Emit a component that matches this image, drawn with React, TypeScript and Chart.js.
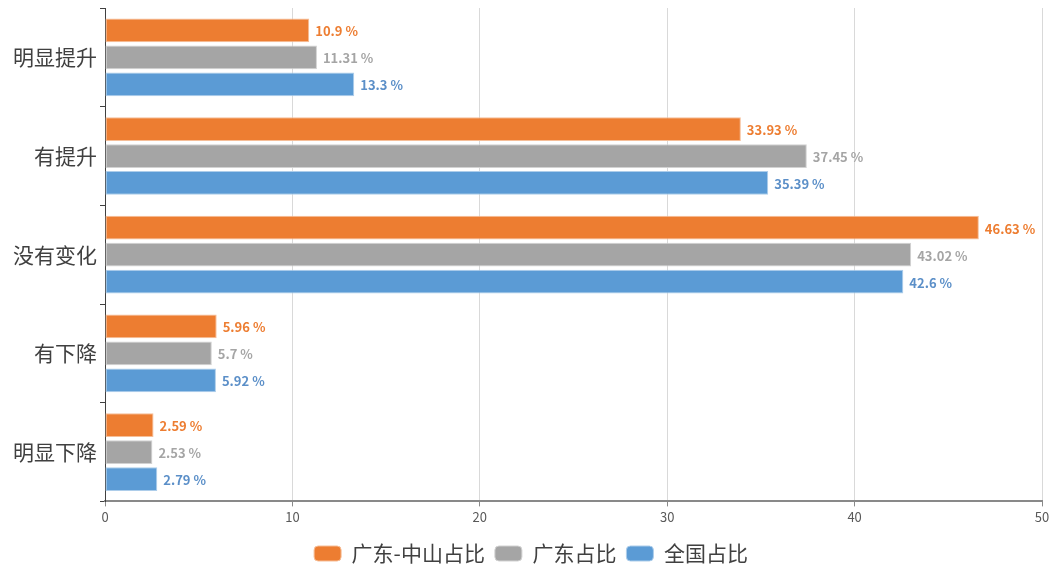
import React, { useEffect, useRef } from "react";
import { Chart, registerables } from "chart.js";

Chart.register(...registerables);

const categories = ["明显提升", "有提升", "没有变化", "有下降", "明显下降"];
const seriesNames = ["广东-中山占比", "广东占比", "全国占比"];
const zhongshan = [10.9, 33.93, 46.63, 5.96, 2.59];
const guangdong = [11.31, 37.45, 43.02, 5.7, 2.53];
const national = [13.3, 35.39, 42.6, 5.92, 2.79];
const xTicks = [0, 10, 20, 30, 40, 50];

const colors = ["#ED7D31", "#A5A5A5", "#5B9BD5"];
const borderColors = ["#F6BE98", "#D2D2D2", "#ADCDEA"];
const labelColors = ["#ED7D31", "#A5A5A5", "#5B8FC8"];

const FONT = '"Noto Sans CJK SC", "Noto Sans", sans-serif';

const labelPlugin = {
  id: "barValueLabels",
  afterLayout(chart: any) {
    if (chart.legend) {
      chart.legend.left += 20;
      chart.legend.top += 6;
      chart.legend.bottom += 6;
    }
  },
  afterDatasetsDraw(chart: any) {
    const ctx = chart.ctx;
    ctx.save();
    ctx.font = `bold 13px ${FONT}`;
    ctx.textBaseline = "middle";
    ctx.textAlign = "left";
    chart.data.datasets.forEach((ds: any, di: number) => {
      const meta = chart.getDatasetMeta(di);
      meta.data.forEach((bar: any, i: number) => {
        ctx.fillStyle = labelColors[di];
        ctx.fillText(`${ds.data[i]} %`, bar.x + 6, bar.y + 1);
      });
    });
    ctx.restore();
  },
};

export default function App() {
  const ref = useRef<HTMLCanvasElement>(null);
  useEffect(() => {
    if (!ref.current) return;
    const data = [zhongshan, guangdong, national];
    const chart = new Chart(ref.current, {
      type: "bar",
      data: {
        labels: categories,
        datasets: seriesNames.map((name, i) => ({
          label: name,
          data: data[i],
          backgroundColor: colors[i],
          borderColor: borderColors[i],
          borderWidth: 1,
          borderSkipped: false,
          categoryPercentage: 0.82,
          barPercentage: 0.88,
        })),
      },
      options: {
        indexAxis: "y",
        responsive: true,
        maintainAspectRatio: false,
        animation: false,
        layout: { padding: { top: 8, right: 9, left: 0, bottom: 0 } },
        plugins: {
          tooltip: { enabled: false },
          legend: {
            position: "bottom",
            labels: {
              boxWidth: 27,
              boxHeight: 15,
              useBorderRadius: true,
              borderRadius: 4,
              padding: 10,
              color: "#404040",
              font: { family: FONT, size: 21 },
            },
          },
        },
        scales: {
          x: {
            min: 0,
            max: 50,
            afterBuildTicks: (axis: any) => {
              axis.ticks = xTicks.map((v) => ({ value: v }));
            },
            afterFit: (axis: any) => {
              axis.paddingRight = 0;
              axis.paddingLeft = 0;
              axis.height = axis.height - 1;
            },
            grid: {
              color: "#D9D9D9",
              lineWidth: 1,
              tickLength: 5,
              tickColor: "#898989",
            },
            border: { display: true, color: "#898989", width: 2 },
            ticks: {
              color: "#595959",
              font: { family: FONT, size: 13 },
              padding: 3,
            },
          },
          y: {
            offset: true,
            afterFit: (axis: any) => {
              axis.width = 105;
              axis.paddingTop = 0;
              axis.paddingBottom = 0;
            },
            grid: {
              offset: true,
              drawOnChartArea: false,
              drawTicks: true,
              tickLength: 5,
              color: "#404040",
            },
            border: { display: true, color: "#404040", width: 1 },
            ticks: {
              color: "#404040",
              font: { family: FONT, size: 21 },
              padding: 3,
            },
          },
        },
      },
      plugins: [labelPlugin],
    });
    return () => chart.destroy();
  }, []);
  return (
    <div style={{ position: "fixed", left: 0, top: 0, width: 1051, height: 568, background: "#fff" }}>
      <canvas ref={ref} />
    </div>
  );
}
